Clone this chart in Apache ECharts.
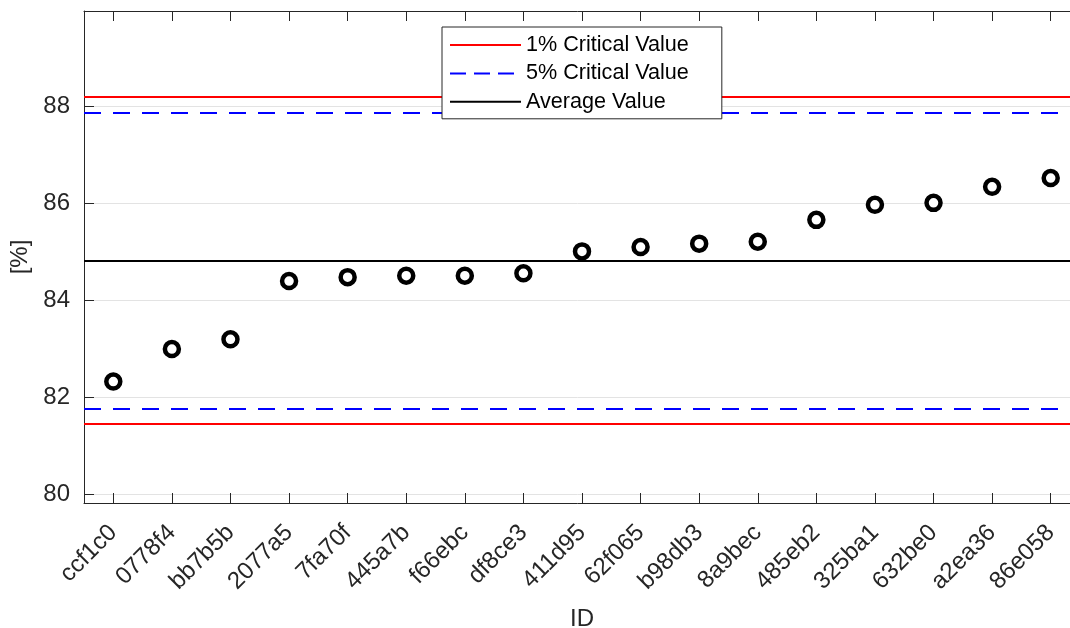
<!DOCTYPE html>
<html>
<head>
<meta charset="utf-8">
<script src="https://cdn.jsdelivr.net/npm/echarts@6/dist/echarts.min.js"></script>
<style>
  html, body { margin: 0; padding: 0; background: #fff; }
  #chart { width: 1070px; height: 628px; }
</style>
</head>
<body>
<div id="chart"></div>
<script>
// Sample IDs, sorted by their measured percentage
const ids = ['ccf1c0', '0778f4', 'bb7b5b', '2077a5', '7fa70f', '445a7b', 'f66ebc', 'df8ce3',
  '411d95', '62f065', 'b98db3', '8a9bec', '485eb2', '325ba1', '632be0', 'a2ea36', '86e058'];
const values = [82.33, 83.00, 83.20, 84.40, 84.48, 84.51, 84.51, 84.56,
  85.01, 85.10, 85.17, 85.21, 85.66, 85.97, 86.01, 86.34, 86.52];

// Reference levels
const critical1 = [81.47, 88.19];
const critical5 = [81.77, 87.87];
const averageValue = [84.82];

// Y axis range and labelled ticks
const yRange = [79.83, 89.96];
const yTicks = [80, 82, 84, 86, 88];

const INK = '#262626';
const FONT = '"Liberation Sans", Arial, Helvetica, sans-serif';

function refLines(levels) {
  return levels.map(v => ({ yAxis: v }));
}

const chart = echarts.init(document.getElementById('chart'), null, { renderer: 'canvas' });

chart.setOption({
  animation: false,
  backgroundColor: '#fff',
  textStyle: { fontFamily: FONT, color: INK },
  grid: { left: 84, top: 11, right: -10, bottom: 125, containLabel: false, outerBoundsMode: 'none' },
  legend: {
    orient: 'vertical',
    left: 442,
    top: 27,
    z: 20,
    data: ['1% Critical Value', '5% Critical Value', 'Average Value'],
    itemWidth: 71,
    itemHeight: 14,
    itemGap: 6.4,
    padding: [7, 33, 6, 7],
    backgroundColor: '#fff',
    borderColor: INK,
    borderWidth: 1,
    borderRadius: 0,
    selectedMode: false,
    itemStyle: { opacity: 0 },
    textStyle: { fontFamily: FONT, fontSize: 21.6, color: '#000', lineHeight: 20 }
  },
  xAxis: [
    {
      type: 'category',
      data: ids,
      position: 'bottom',
      boundaryGap: true,
      name: 'ID',
      nameLocation: 'middle',
      nameGap: 104,
      nameTextStyle: { fontFamily: FONT, fontSize: 24, color: INK },
      axisLine: { show: true, lineStyle: { color: INK, width: 1 } },
      axisTick: { show: true, inside: true, length: 10, alignWithLabel: true, lineStyle: { color: INK } },
      axisLabel: { rotate: 45, margin: 26, padding: [12, 0, 0, 0], fontFamily: FONT, fontSize: 24, color: INK, interval: 0 },
      splitLine: { show: false }
    },
    {
      type: 'category',
      data: ids,
      position: 'top',
      boundaryGap: true,
      axisLine: { show: true, lineStyle: { color: INK, width: 1 } },
      axisTick: { show: true, inside: true, length: 10, alignWithLabel: true, lineStyle: { color: INK } },
      axisLabel: { show: false },
      splitLine: { show: false }
    }
  ],
  yAxis: {
    type: 'value',
    min: yRange[0],
    max: yRange[1],
    name: '[%]',
    nameLocation: 'middle',
    nameGap: 50,
    nameTextStyle: { fontFamily: FONT, fontSize: 24, color: INK },
    axisLine: { show: true, lineStyle: { color: INK, width: 1 } },
    axisTick: { show: true, inside: true, length: 10, customValues: yTicks, lineStyle: { color: INK } },
    axisLabel: { margin: 14, fontFamily: FONT, fontSize: 24, color: INK, customValues: yTicks },
    splitLine: { show: true, lineStyle: { color: '#e3e3e3', width: 1 } }
  },
  series: [
    {
      name: '1% Critical Value',
      type: 'line',
      data: [],
      symbol: 'none',
      color: '#ff0000',
      lineStyle: { color: '#ff0000', width: 2 },
      markLine: {
        silent: true,
        symbol: 'none',
        label: { show: false },
        lineStyle: { color: '#ff0000', width: 2, type: 'solid' },
        data: refLines(critical1)
      }
    },
    {
      name: '5% Critical Value',
      type: 'line',
      data: [],
      symbol: 'none',
      color: '#0000ff',
      lineStyle: { color: '#0000ff', width: 2, type: [16, 8] },
      markLine: {
        silent: true,
        symbol: 'none',
        label: { show: false },
        lineStyle: { color: '#0000ff', width: 2.2, type: [17, 12] },
        data: refLines(critical5)
      }
    },
    {
      name: 'Average Value',
      type: 'line',
      data: [],
      symbol: 'none',
      color: '#000',
      lineStyle: { color: '#000', width: 2 },
      markLine: {
        silent: true,
        symbol: 'none',
        label: { show: false },
        lineStyle: { color: '#000', width: 2, type: 'solid' },
        data: refLines(averageValue)
      }
    },
    {
      name: 'Samples',
      type: 'scatter',
      data: values,
      symbol: 'circle',
      symbolSize: 14,
      itemStyle: { color: '#fff', borderColor: '#000', borderWidth: 4.5, opacity: 1 },
      z: 5
    }
  ]
});
</script>
</body>
</html>
